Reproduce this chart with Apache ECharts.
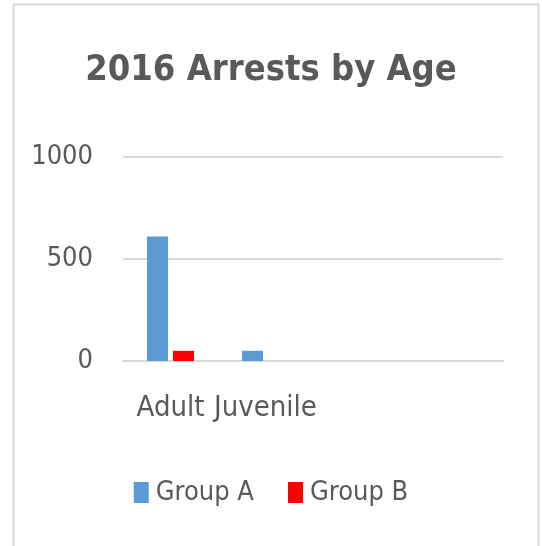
<!DOCTYPE html>
<html>
<head>
<meta charset="utf-8">
<script src="https://cdn.jsdelivr.net/npm/echarts@6/dist/echarts.min.js"></script>
<style>
    html, body { margin: 0; padding: 0; background: #fff; }
    #chart { width: 542px; height: 546px; }
</style>
</head>
<body>
<div id="chart"></div>
<script>
// data
var categories = ['Adult', 'Juvenile', '', ''];
var groupA = [610, 50, null, null];
var groupB = [50, null, null, null];
var yTicks = [0, 500, 1000];

var font = '"DejaVu Sans Condensed", "Liberation Sans", sans-serif';
var textColor = '#595959';

var myChart = echarts.init(document.getElementById('chart'));
var option = {
    backgroundColor: '#fff',
    animation: false,
    title: {
        text: '2016 Arrests by Age',
        left: 'center',
        top: 48,
        textStyle: {
            fontFamily: font,
            fontSize: 36,
            fontWeight: 'bold',
            color: textColor
        }
    },
    // thin frame round the chart area
    graphic: [{
        type: 'rect',
        shape: { x: 13.5, y: 4.5, width: 525, height: 560 },
        style: { fill: 'none', stroke: '#d9d9d9', lineWidth: 2 },
        silent: true
    }],
    legend: {
        data: ['Group A', 'Group B'],
        left: 'center',
        top: 474,
        itemWidth: 15,
        itemHeight: 21,
        itemGap: 34,
        icon: 'rect',
        textStyle: {
            fontFamily: font,
            fontSize: 27,
            color: textColor,
            padding: [0, 0, 0, 2]
        }
    },
    grid: {
        left: 123,
        right: 39,
        top: 157,
        bottom: 185
    },
    xAxis: {
        type: 'category',
        data: categories,
        axisLine: { show: true, lineStyle: { color: '#d9d9d9', width: 2 } },
        axisTick: { show: false },
        axisLabel: {
            interval: 0,
            margin: 33,
            fontFamily: font,
            fontSize: 29,
            color: textColor
        }
    },
    yAxis: {
        type: 'value',
        min: yTicks[0],
        max: yTicks[yTicks.length - 1],
        interval: yTicks[1] - yTicks[0],
        axisLine: { show: false },
        axisTick: { show: false },
        splitLine: { lineStyle: { color: '#d9d9d9', width: 2 } },
        axisLabel: {
            margin: 30,
            formatter: function (v) { return String(v); },
            fontFamily: font,
            fontSize: 27,
            color: textColor
        }
    },
    series: [
        {
            name: 'Group A',
            type: 'bar',
            data: groupA,
            barWidth: 21,
            barGap: '24%',
            itemStyle: { color: '#5B9BD5' }
        },
        {
            name: 'Group B',
            type: 'bar',
            data: groupB,
            barWidth: 21,
            itemStyle: { color: '#FF0000' }
        }
    ]
};
myChart.setOption(option);
</script>
</body>
</html>
